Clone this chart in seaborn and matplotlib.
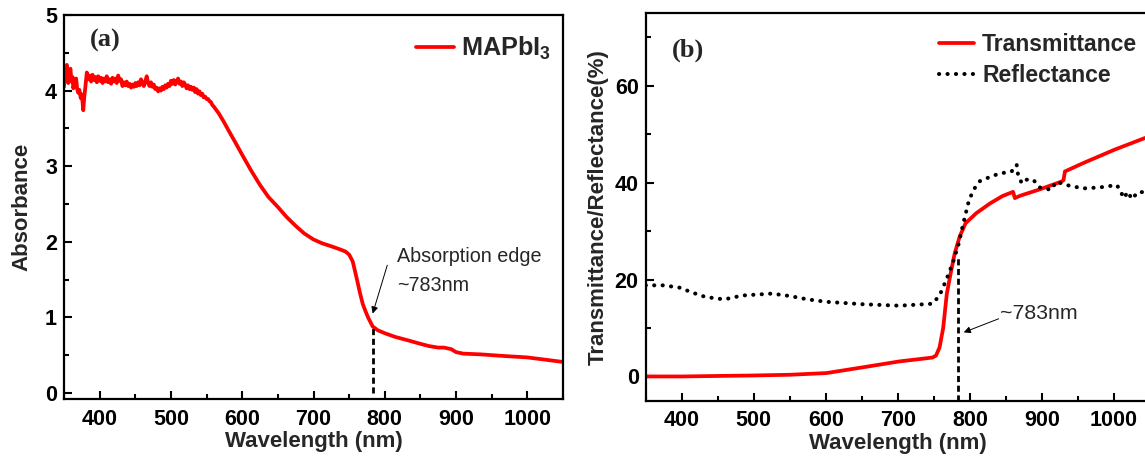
import numpy as np
import pandas as pd
import matplotlib
matplotlib.use("Agg")
import matplotlib.pyplot as plt
import seaborn as sns

# ---- (a) absorbance of the MAPbI3 film ----
abs_wavelength = [350, 351, 352.5, 354, 355, 356, 357.5, 359, 360.5, 362, 363, 365,
                  367, 368.5, 370, 371.5, 373.5, 375, 377, 378.5,
                  380, 382, 384, 386, 388, 390, 392, 394, 396, 398, 400, 402, 404,
                  406, 408, 410, 412, 414, 416, 418, 420, 422, 424, 426, 428, 430,
                  432, 434, 436, 438, 440, 442, 444, 446, 448, 450, 452, 454, 456,
                  458, 460, 462, 464, 466, 468, 470, 472, 474, 476, 478, 480, 482,
                  484, 486, 488, 490, 492, 494, 496, 498, 500, 502, 504, 506, 508,
                  510, 512, 514, 516, 518, 520, 522, 524, 526, 528, 530, 532, 534,
                  536, 538, 540, 542, 544, 546, 548, 550, 552, 554, 556, 558, 560,
                  567, 574, 581, 590, 600, 612, 625, 637, 650, 662, 675, 687, 700,
                  712, 725, 737, 745, 750, 755, 761, 765, 769, 773, 777, 783, 790,
                  800, 815, 831, 846, 862, 875, 883, 893, 900, 910, 935, 965, 1000,
                  1025, 1050]
absorbance = [4.05, 4.23, 4.12, 4.34, 4.20, 4.10, 4.22, 4.29, 4.12, 4.18, 4.03, 4.10,
              4.16, 4.02, 3.97, 4.01, 3.90, 3.95, 3.74, 3.92,
              4.05, 4.24, 4.15, 4.20, 4.12, 4.21, 4.14, 4.18, 4.11, 4.19, 4.13, 4.17,
              4.10, 4.16, 4.12, 4.19, 4.11, 4.15, 4.09, 4.17, 4.12, 4.16, 4.10, 4.20,
              4.13, 4.15, 4.06, 4.11, 4.07, 4.12, 4.06, 4.09, 4.04, 4.08, 4.05, 4.10,
              4.06, 4.11, 4.07, 4.15, 4.10, 4.06, 4.12, 4.19, 4.10, 4.06, 4.11, 4.05,
              4.08, 4.02, 4.04, 3.99, 4.03, 4.00, 4.05, 4.02, 4.07, 4.04, 4.09, 4.06,
              4.13, 4.09, 4.14, 4.08, 4.12, 4.16, 4.09, 4.12, 4.06, 4.11, 4.08, 4.03,
              4.07, 4.02, 4.05, 4.01, 4.04, 3.98, 4.02, 3.96, 3.99, 3.94, 3.96, 3.91,
              3.92, 3.89, 3.89, 3.86, 3.85, 3.81, 3.79,
              3.70, 3.59, 3.47, 3.32, 3.15, 2.95, 2.75, 2.59, 2.46, 2.33, 2.21, 2.11,
              2.03, 1.98, 1.94, 1.90, 1.87, 1.83, 1.74, 1.50, 1.33, 1.18, 1.08, 0.99,
              0.88, 0.83, 0.79, 0.74, 0.70, 0.66, 0.62, 0.60, 0.60, 0.58, 0.54, 0.52,
              0.51, 0.49, 0.47, 0.44, 0.41]

# ---- (b) transmittance and reflectance (%) ----
trans_wavelength = [350, 400, 448, 499, 550, 601, 652, 702, 748, 753, 758, 763, 768,
                    773, 779, 786, 794, 809, 828, 845, 860, 862.5, 870, 897, 927, 930,
                    932, 957, 1001, 1043, 1050]
transmittance = [0.0, 0.0, 0.1, 0.2, 0.35, 0.7, 1.9, 3.1, 3.9, 4.3, 6.0, 10.0, 17.0,
                 21.0, 25.4, 28.9, 31.6, 33.7, 35.7, 37.2, 38.1, 36.8, 37.3, 38.6, 40.2,
                 40.5, 42.3, 44.0, 46.8, 49.2, 49.5]

refl_wavelength = [350, 375, 398, 413, 433, 459, 484, 525, 550, 575, 601, 652, 702,
                   748, 758, 768, 776, 784, 791, 799, 807, 814, 830, 842, 851, 858,
                   865, 867, 872, 876, 888, 897, 913, 920, 934, 957, 980, 1004, 1010,
                   1013, 1020, 1024.5, 1034, 1050]
reflectance = [18.8, 18.8, 18.3, 17.4, 16.4, 15.9, 16.7, 17.1, 16.6, 15.9, 15.4, 14.9,
               14.6, 15.0, 16.7, 20.2, 23.3, 27.1, 31.6, 36.5, 38.9, 40.3, 41.3, 41.9,
               42.1, 42.3, 43.7, 41.6, 39.9, 40.6, 40.6, 39.0, 38.5, 40.2, 39.5, 38.8,
               39.0, 39.5, 38.1, 36.8, 38.1, 36.6, 38.1, 37.9]

edge_nm = 783

sns.set_style("ticks")
plt.rcParams["font.family"] = ["Liberation Sans", "DejaVu Sans"]
plt.rcParams["font.weight"] = "bold"
plt.rcParams["axes.labelweight"] = "bold"
plt.rcParams["mathtext.fontset"] = "custom"
plt.rcParams["mathtext.rm"] = "Liberation Sans:bold"
plt.rcParams["mathtext.bf"] = "Liberation Sans:bold"

RED = "#ff0000"
DOTS = (0, (0.05, 2.05))
fig = plt.figure(figsize=(11.45, 4.62), dpi=100)
ax_a = fig.add_axes([0.0559, 0.1364, 0.4358, 0.8311])
ax_b = fig.add_axes([0.5639, 0.1327, 0.4404, 0.8392])


def style_axes(ax):
    for side in ["left", "bottom", "top", "right"]:
        ax.spines[side].set_visible(True)
        ax.spines[side].set_linewidth(1.6)
        ax.spines[side].set_color("black")
    ax.tick_params(axis="both", which="major", direction="in", length=6, width=1.5,
                   labelsize=15.5, pad=7, colors="black")
    ax.tick_params(axis="y", which="major", pad=5)
    ax.tick_params(axis="both", which="minor", direction="in", length=3.5, width=1.5,
                   colors="black")
    ax.tick_params(which="both", bottom=True, left=True, top=False, right=False)
    for lab in ax.get_xticklabels() + ax.get_yticklabels():
        lab.set_fontweight("bold")


# Panel (a)
df_a = pd.DataFrame({"nm": abs_wavelength, "A": absorbance})
sns.lineplot(data=df_a, x="nm", y="A", ax=ax_a, color=RED, lw=2.7,
             estimator=None, label=r"MAPbI$_\mathbf{3}$")
ax_a.set_xlim(350, 1050)
ax_a.set_ylim(-0.08, 5)
ax_a.set_xticks(range(400, 1001, 100))
ax_a.set_xticks(range(350, 1051, 50), minor=True)
ax_a.set_yticks(range(0, 6))
ax_a.set_yticks(np.arange(0, 5.01, 0.5), minor=True)
ax_a.set_xlabel("Wavelength (nm)", fontsize=16, labelpad=1)
ax_a.set_ylabel("Absorbance", fontsize=16, labelpad=9)
style_axes(ax_a)
edge_abs = float(np.interp(edge_nm, abs_wavelength, absorbance))
ax_a.plot([edge_nm, edge_nm], [0, edge_abs], color="black", lw=2.0,
          linestyle=(0, (2.2, 1.3)))
ax_a.annotate("", xy=(edge_nm, 1.05), xytext=(803.5, 1.69),
              arrowprops=dict(arrowstyle="-|>", color="black", lw=0.7,
                              mutation_scale=10, shrinkA=0, shrinkB=0))
ax_a.text(817, 1.80, "Absorption edge", fontsize=14.2, fontweight="normal",
          va="center", ha="left")
ax_a.text(817, 1.42, "~783nm", fontsize=14.2, fontweight="normal",
          va="center", ha="left")
ax_a.text(0.083, 0.933, "(a)", transform=ax_a.transAxes, fontsize=19,
          family=["Liberation Serif"], fontweight="bold", ha="center", va="center")
ax_a.legend(loc="upper right", bbox_to_anchor=(1.022, 1.008), frameon=False,
            handlelength=1.5, handletextpad=0.3,
            prop={"weight": "bold", "size": 18.2})

# Panel (b)
df_t = pd.DataFrame({"nm": trans_wavelength, "v": transmittance})
df_r = pd.DataFrame({"nm": refl_wavelength, "v": reflectance})
sns.lineplot(data=df_t, x="nm", y="v", ax=ax_b, color=RED, lw=2.7,
             estimator=None, label="Transmittance")
sns.lineplot(data=df_r, x="nm", y="v", ax=ax_b, color="black", lw=2.9,
             estimator=None, label="Reflectance")
refl_line = ax_b.get_lines()[-1]
refl_line.set_linestyle(DOTS)
refl_line.set_dash_capstyle("round")
ax_b.set_xlim(350, 1050)
ax_b.set_ylim(-5, 75)
ax_b.set_xticks(range(400, 1001, 100))
ax_b.set_xticks(range(350, 1051, 50), minor=True)
ax_b.set_yticks([0, 20, 40, 60])
ax_b.set_yticks(range(0, 71, 10), minor=True)
ax_b.set_xlabel("Wavelength (nm)", fontsize=16, labelpad=1)
ax_b.set_ylabel("Transmittance/Reflectance(%)", fontsize=16, labelpad=4)
style_axes(ax_b)
edge_t = float(np.interp(edge_nm, trans_wavelength, transmittance))
ax_b.plot([edge_nm, edge_nm], [-5, edge_t - 3], color="black", lw=2.0,
          linestyle=(0, (2.2, 1.3)))
ax_b.annotate("", xy=(791.5, 9.1), xytext=(840, 11.9),
              arrowprops=dict(arrowstyle="-|>", color="black", lw=0.7,
                              mutation_scale=10, shrinkA=0, shrinkB=0))
ax_b.text(842, 12.9, "~783nm", fontsize=15.3, fontweight="normal",
          va="center", ha="left")
ax_b.text(0.083, 0.905, "(b)", transform=ax_b.transAxes, fontsize=19,
          family=["Liberation Serif"], fontweight="bold", ha="center", va="center")
leg_b = ax_b.legend(loc="upper left", bbox_to_anchor=(0.54, 1.002), frameon=False,
                    handlelength=1.55, handletextpad=0.33, labelspacing=0.35,
                    prop={"weight": "bold", "size": 16.6})
leg_b.get_lines()[1].set_linestyle(DOTS)
leg_b.get_lines()[1].set_dash_capstyle("round")

fig.savefig("out.png", dpi=100)
